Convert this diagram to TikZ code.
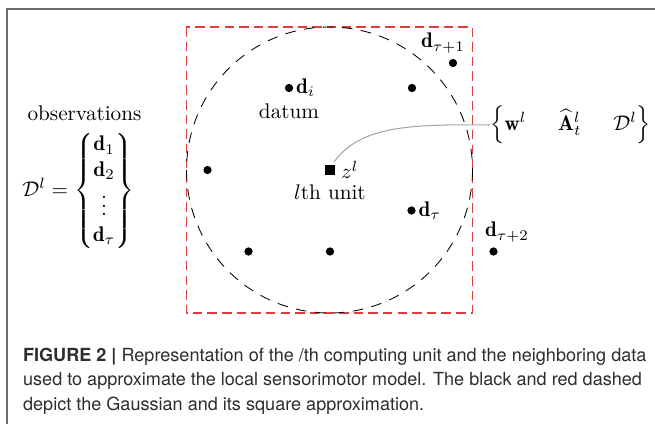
\documentclass[tikz,border=0pt]{standalone}
\usepackage{amsmath}
\usepackage{fontspec}
\newfontfamily\capfont{TeX Gyre Heros}
\definecolor{sqred}{RGB}{222,62,62}
\definecolor{framegray}{RGB}{110,110,110}
\definecolor{captext}{RGB}{45,45,45}
\begin{document}
\begin{tikzpicture}[x=0.472pt,y=-0.472pt,
  dot/.style={circle,fill=black,inner sep=0pt,minimum size=3.9pt},
  unitbox/.style={fill=black,inner sep=0pt,minimum size=4.6pt},
  caption/.style={anchor=base west,inner sep=0pt,font=\capfont\fontsize{8.53}{11.6}\selectfont,text=captext}]
\useasboundingbox (0,0) rectangle (655,424);
% frame
\draw[framegray,line width=1pt] (7,424) -- (7,9) -- (655,9);
% square approximation and Gaussian
\draw[sqred,line width=0.7pt,dash pattern=on 4.5pt off 2.4pt] (186.5,27) rectangle (472.5,313);
\draw[black,line width=0.4pt,dash pattern=on 5pt off 4pt] (329.5,170) circle[radius=143];
% data points
\node[dot] (di) at (289,88) {};
\node[dot] (dr) at (412,88) {};
\node[dot] (dt1) at (453,63) {};
\node[dot] (dl) at (207.5,170) {};
\node[dot] (dt) at (411.5,210.5) {};
\node[dot] (db1) at (248.5,251.5) {};
\node[dot] (db2) at (330,251.5) {};
\node[dot] (dt2) at (493.5,251.5) {};
\node[unitbox] (z) at (330,170) {};
% labels
\node[anchor=west,inner sep=1pt] (dil) at (di.east) {$\mathbf{d}_i$};
\node (datum) at (289,111) {datum};
\node[anchor=west,inner sep=1pt] (dtl) at (dt.east) {$\mathbf{d}_\tau$};
\node (dt1l) at (443,43) {$\mathbf{d}_{\tau+1}$};
\node (dt2l) at (507,232) {$\mathbf{d}_{\tau+2}$};
\node[anchor=west,inner sep=2.5pt] (zl) at (z.east) {$z^l$};
\node (unit) at (330,192) {$l$th unit};
\node (obs) at (84.5,113) {observations};
\node[anchor=west,inner sep=0pt] (Dl) at (22,191)
  {$\mathcal{D}^l=\left\{\begin{matrix}\mathbf{d}_1\\ \mathbf{d}_2\\ \vdots\\ \mathbf{d}_\tau\end{matrix}\right\}$};
\node[anchor=west,inner sep=0pt] (set) at (490,125)
  {$\Big\{\mathbf{w}^l\hspace{1.5em}\widehat{\mathbf{A}}{}^l_t\hspace{1.5em}\mathcal{D}^l\Big\}$};
% connector
\coordinate (zc) at (334,162);
\draw[black!35,line width=0.5pt] (zc) .. controls (360,126) and (410,124) .. (set.west);
% caption
\node[caption] (cap1) at (22.7,361.5) {\textbf{FIGURE 2 |} Representation of the /th computing unit and the neighboring data};
\node[caption] (cap2) at (22.7,386) {used to approximate the local sensorimotor model. The black and red dashed};
\node[caption] (cap3) at (22.7,410.5) {depict the Gaussian and its square approximation.};
\end{tikzpicture}
\end{document}
